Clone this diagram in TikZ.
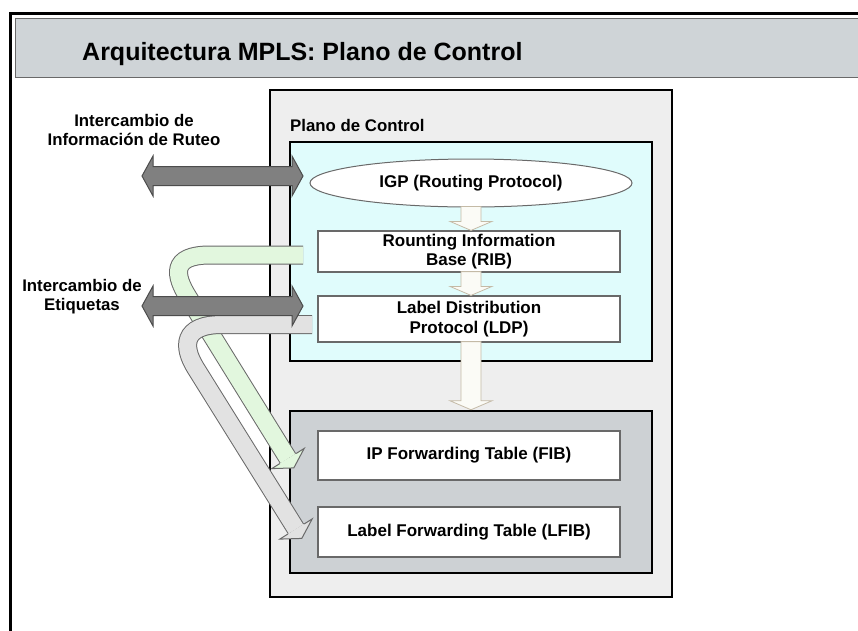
\documentclass[tikz,border=0pt]{standalone}
\usepackage{fontspec}
\setmainfont{Liberation Sans}
\usetikzlibrary{calc,shapes.geometric}

\definecolor{barra}{RGB}{207,212,215}
\definecolor{fondo}{RGB}{238,238,238}
\definecolor{celeste}{RGB}{224,252,252}
\definecolor{gris}{RGB}{205,209,212}
\definecolor{oscuro}{RGB}{128,128,128}
\definecolor{verde}{RGB}{226,247,222}
\definecolor{plata}{RGB}{226,226,226}
\definecolor{crema}{RGB}{251,251,246}
\definecolor{beige}{RGB}{196,186,166}
\definecolor{borde}{RGB}{105,105,105}

% flecha gris oscura de dos puntas entre dos coordenadas
\newcommand{\dflecha}[2]{%
	\filldraw[doble] (#1) -- ($(#1)+(11,-20)$) -- ($(#1)+(11,-9.5)$) -- ($(#2)+(-11,-9.5)$) -- ($(#2)+(-11,-20)$)
		-- (#2) -- ($(#2)+(-11,20)$) -- ($(#2)+(-11,9.5)$) -- ($(#1)+(11,9.5)$) -- ($(#1)+(11,20)$) -- cycle;}
% punta de las bandas curvas
\newcommand{\punta}[2]{%
	\filldraw[draw=borde, line width=1pt, fill=#2] ($(#1)+(8.1,-5)$) -- ($(#1)+(16.2,-10.1)$) -- ($(#1)+(5.8,9.4)$)
		-- ($(#1)+(-16.2,10.1)$) -- ($(#1)+(-8.1,5)$);}

\begin{document}
\begin{tikzpicture}[x=1pt, y=-1pt,
	marco/.style={draw=black, line width=2.5pt, inner sep=0pt},
	caja/.style={draw=borde, line width=1.2pt, fill=white, minimum width=302pt, inner sep=0pt,
		font=\fontsize{17}{19.5}\selectfont\bfseries, align=center},
	etiqueta/.style={font=\fontsize{16.8}{19}\selectfont\bfseries, align=center, inner sep=0pt},
	doble/.style={fill=oscuro, draw=black!70, line width=1pt},
	bloque/.style={fill=crema, draw=beige, line width=0.8pt},
	banda/.style={draw=borde, line width=1pt, double distance=17pt}]

	\useasboundingbox (0,0) rectangle (858,630);
	\clip (0,0) rectangle (858,630);
	\fill[white] (0,0) rectangle (858,630);
	\draw[line width=3pt] (10,13) rectangle (890,670);
	\draw[draw=borde, line width=1pt, fill=barra] (15,18) rectangle (880,77);
	\node[anchor=base west, inner sep=0pt, font=\fontsize{25}{29}\selectfont\bfseries] (titulo) at (82,60) {Arquitectura MPLS: Plano de Control};

	\node[marco, fill=fondo, minimum width=402pt, minimum height=507pt] (plano) at (471,343.5) {};
	\node[etiqueta, anchor=base west] (nplano) at (290,131) {Plano de Control};
	\node[marco, fill=celeste, minimum width=362pt, minimum height=219pt] (control) at (471,251.5) {};
	\node[marco, fill=gris, minimum width=362pt, minimum height=162pt] (datos) at (471,492) {};

	\node[ellipse, draw=borde, line width=1pt, fill=white, minimum width=322pt, minimum height=48pt, inner sep=0pt,
		font=\fontsize{17}{19.5}\selectfont\bfseries] (igp) at (471,183) {IGP (Routing Protocol)};
	\node[caja, minimum height=41pt] (rib) at (469,251.5) {Rounting Information\\Base (RIB)};
	\node[caja, minimum height=46pt] (ldp) at (469,319) {Label Distribution\\Protocol (LDP)};
	\node[caja, minimum height=49pt] (fib) at (469,455.5) {IP Forwarding Table (FIB)};
	\node[caja, minimum height=50pt] (lfib) at (469,532) {Label Forwarding Table (LFIB)};

	\node[etiqueta] (ruteo) at (134,130) {Intercambio de\\Información de Ruteo};
	\node[etiqueta] (etiq) at (82,297) {Intercambio de\\Etiquetas};

	\foreach \a/\b in {igp/rib,rib/ldp,ldp/datos} {
		\draw[bloque] ($(\a.south -| datos.north)+(-10,-1)$) -- ++(20,0) |- ($(\b.north -| datos.north)+(10,-9)$)
			-- ++(11,0) -- (\b.north -| datos.north) -- ++(-21,-9) -- ++(11,0) -- cycle;
	}

	% bandas curvas hacia FIB y LFIB
	\coordinate (vpunta) at (288,458.5);
	\coordinate (gpunta) at (296,529);
	\draw[banda, double=verde] (303,255) -- (210,255) .. controls (170,255) and (174.8,275.8) .. (188,297) -- (vpunta);
	\punta{vpunta}{verde}
	\draw[banda, double=plata] (312,324.5) -- (222,324.5) .. controls (182,324.5) and (182.4,346.8) .. (195.6,368) -- (gpunta);
	\punta{gpunta}{plata}

	\coordinate (r1) at (142,176);
	\coordinate (r2) at (303,176);
	\coordinate (e1) at (142,306);
	\coordinate (e2) at (303,306);
	\dflecha{r1}{r2}
	\dflecha{e1}{e2}
\end{tikzpicture}
\end{document}
